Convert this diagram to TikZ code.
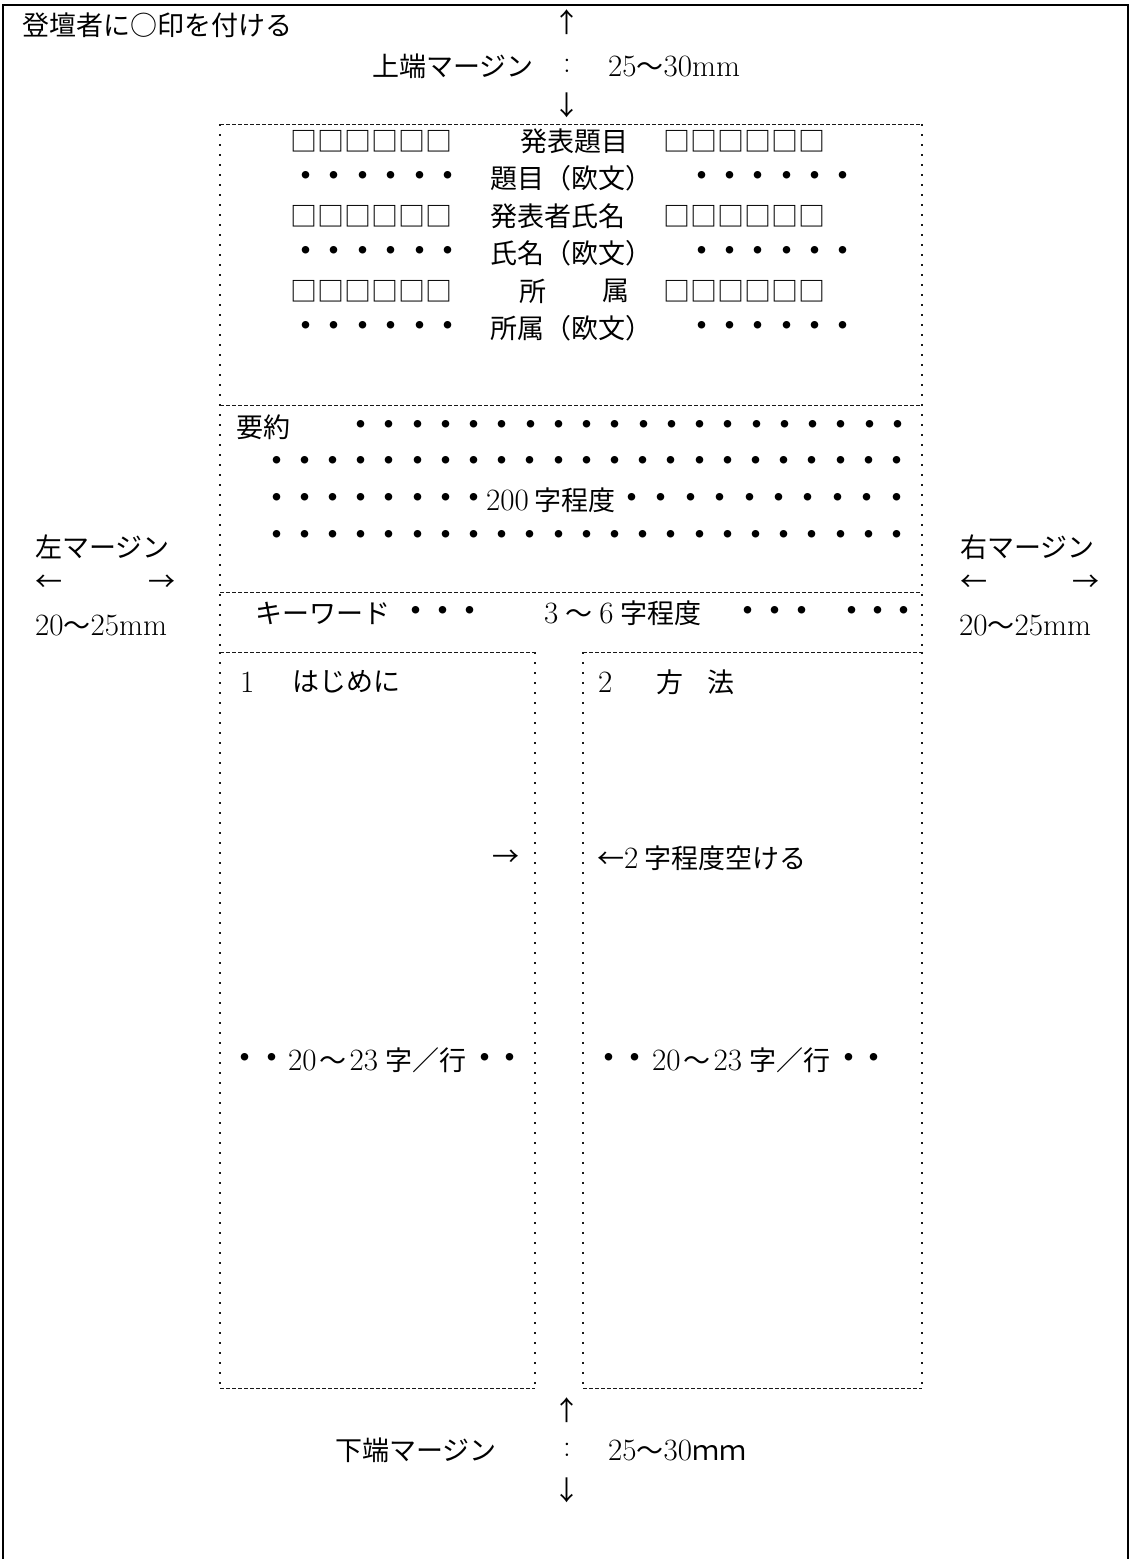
\documentclass[tikz,border=0pt]{standalone}
\usepackage{fontspec}
\newfontfamily\jp{Noto Sans CJK JP}[Scale=0.871]
\begin{document}
\begin{tikzpicture}[x=1pt,y=-1pt,
  txt/.style={inner sep=0pt, font=\fontsize{31}{36}\selectfont, anchor=west},
  ctr/.style={inner sep=0pt, font=\fontsize{31}{36}\selectfont},
  dotc/.style={inner sep=0pt, font=\fontsize{31}{36}\selectfont\jp\bfseries},
  frame/.style={line width=1.6pt},
  hdash/.style={line width=1pt, dash pattern=on 3.5pt off 2.5pt, black!90},
  vdot/.style={line width=1.5pt, dash pattern=on 1.5pt off 8.5pt, black!90}
]
\useasboundingbox (0,0) rectangle (1130,1559);
% outer frame
\coordinate (fbl) at (3,1559);
\coordinate (ftl) at (3,5);
\coordinate (ftr) at (1128,5);
\coordinate (fbr) at (1128,1559);
\draw[frame] (fbl) -- (ftl) -- (ftr) -- (fbr);
% header boxes
\coordinate (b1tl) at (220,124);
\coordinate (b1tr) at (922,124);
\coordinate (b1bl) at (220,405);
\coordinate (b1br) at (922,405);
\coordinate (b2bl) at (220,592);
\coordinate (b2br) at (922,592);
\coordinate (kbl) at (220,652);
\coordinate (kbr) at (922,652);
\draw[hdash] (b1tl) -- (b1tr);
\draw[hdash] (b1bl) -- (b1br);
\draw[hdash] (b2bl) -- (b2br);
\draw[vdot] (b1tl) -- (kbl);
\draw[vdot] (b1tr) -- (kbr);
% columns
\coordinate (lc1) at (220,652);
\coordinate (lc2) at (535,652);
\coordinate (lc3) at (535,1388);
\coordinate (lc4) at (220,1388);
\coordinate (rc1) at (583,652);
\coordinate (rc2) at (922,652);
\coordinate (rc3) at (922,1388);
\coordinate (rc4) at (583,1388);
\draw[hdash] (lc1) -- (lc2);
\draw[hdash] (lc4) -- (lc3);
\draw[vdot] (lc1) -- (lc4);
\draw[vdot] (lc2) -- (lc3);
\draw[hdash] (rc1) -- (rc2);
\draw[hdash] (rc4) -- (rc3);
\draw[vdot] (rc1) -- (rc4);
\draw[vdot] (rc2) -- (rc3);
% top
\node[txt] (title) at (22,25) {\jp 登壇者に○印を付ける};
\node[ctr] (tup) at (567,22) {\jp ↑};
\node[txt] (tlab) at (372,66) {\jp 上端マージン};
\node[ctr] (tcolon) at (567,66) {:};
\node[txt] (tval) at (608,66) {25{\jp ～}30mm};
\node[ctr] (tdown) at (567,105) {\jp ↓};
% box 1
\foreach \y/\k in {141/1,216/3,291/5}{
  \node[txt] (sqL\k) at (290,\y) {\jp □□□□□□};
  \node[txt] (sqR\k) at (663,\y) {\jp □□□□□□};
}
\foreach \y/\k in {178/2,253/4,328/6}{
  \foreach \i in {0,...,5}{
    \node[dotc] (dL\k-\i) at (306+28.4*\i,\y) {・};
    \node[dotc] (dR\k-\i) at (702+28.2*\i,\y) {・};
  }
}
\node[txt] (h1) at (520,141) {\jp 発表題目};
\node[txt] (h2) at (490,178) {\jp 題目（欧文）};
\node[txt] (h3) at (490,216) {\jp 発表者氏名};
\node[txt] (h4) at (490,253) {\jp 氏名（欧文）};
\node[ctr] (h5a) at (533,291) {\jp 所};
\node[ctr] (h5b) at (616,291) {\jp 属};
\node[txt] (h6) at (490,328) {\jp 所属（欧文）};
% box 2
\node[txt] (yoyaku) at (236,427) {\jp 要約};
\foreach \i in {0,...,19}{ \node[dotc] (a1-\i) at (361+28.25*\i,427) {・}; }
\foreach \i in {0,...,22}{ \node[dotc] (a2-\i) at (276.5+28.2*\i,463) {・}; }
\foreach \i in {0,...,7}{ \node[dotc] (a3-\i) at (276.5+28.2*\i,500) {・}; }
\node[txt] (ab200) at (486,500) {200\hspace{6pt}{\jp 字程度}};
\foreach \i in {0,...,9}{ \node[dotc] (a3r-\i) at (632+29.4*\i,500) {・}; }
\foreach \i in {0,...,22}{ \node[dotc] (a4-\i) at (276.5+28.2*\i,537) {・}; }
% keywords
\node[txt] (kw) at (255,613) {\jp キーワード};
\foreach \x/\k in {416/1,443/2,470/3,748/4,775/5,802/6,852/7,878/8,904/9}{
  \node[dotc] (kd\k) at (\x,613) {・};
}
\node[txt] (kwn) at (544,613) {3\hspace{7pt}{\jp ～}\hspace{7pt}6\hspace{7pt}{\jp 字程度}};
% side margins
\node[txt] (lm) at (35,547) {\jp 左マージン};
\node[txt] (lmla) at (35,583) {\jp ←};
\node[txt] (lmra) at (148,583) {\jp →};
\node[txt] (lmv) at (35,625) {20{\jp ～}25mm};
\node[txt] (rm) at (960,547) {\jp 右マージン};
\node[txt] (rmla) at (960,583) {\jp ←};
\node[txt] (rmra) at (1072,583) {\jp →};
\node[txt] (rmv) at (959,625) {20{\jp ～}25mm};
% columns text
\node[txt] (c1n) at (240,682) {1};
\node[txt] (c1t) at (292,682) {\jp はじめに};
\node[txt] (c2n) at (598,682) {2};
\node[txt] (c2a) at (656,682) {\jp 方};
\node[txt] (c2b) at (707,682) {\jp 法};
\node[txt] (garr) at (492,858) {\jp →};
\node[txt] (gtxt) at (597,858) {{\jp ←}2\hspace{6pt}{\jp 字程度空ける}};
\node[dotc] (lcd1) at (245,1060) {・};
\node[dotc] (lcd2) at (272,1060) {・};
\node[txt] (lct) at (288,1060) {20\hspace{3pt}{\jp ～}\hspace{3pt}23\hspace{7pt}{\jp 字／行}};
\node[dotc] (lcd3) at (485,1060) {・};
\node[dotc] (lcd4) at (510,1060) {・};
\node[dotc] (rcd1) at (609,1060) {・};
\node[dotc] (rcd2) at (635,1060) {・};
\node[txt] (rct) at (652,1060) {20\hspace{3pt}{\jp ～}\hspace{3pt}23\hspace{7pt}{\jp 字／行}};
\node[dotc] (rcd3) at (849,1060) {・};
\node[dotc] (rcd4) at (874,1060) {・};
% bottom
\node[ctr] (bup) at (567,1410) {\jp ↑};
\node[txt] (blab) at (335,1450) {\jp 下端マージン};
\node[ctr] (bcolon) at (567,1450) {:};
\node[txt] (bval) at (608,1450) {25{\jp ～}30{\jp ｍｍ}};
\node[ctr] (bdown) at (567,1490) {\jp ↓};
\end{tikzpicture}
\end{document}
